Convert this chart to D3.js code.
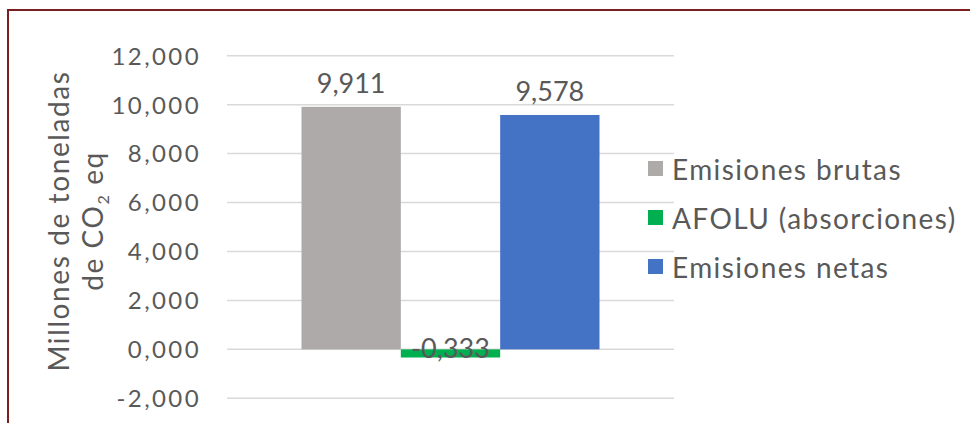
<!DOCTYPE html>
<html>
<head>
<meta charset="utf-8">
<script src="https://cdn.jsdelivr.net/npm/d3@7"></script>
<style>
  body { margin: 0; background: #fff; }
  svg { display: block; }
  text { font-family: Lato, "Open Sans", sans-serif; fill: #595959; }
</style>
</head>
<body>
<svg id="chart" width="970" height="423"></svg>
<script>
// data
const series = ["Emisiones brutas", "AFOLU (absorciones)", "Emisiones netas"];
const values = [9.911, -0.333, 9.578];
const colors = ["#aeaaaa", "#00b050", "#4472c4"];
const yTicks = [-2, 0, 2, 4, 6, 8, 10, 12];

const svg = d3.select("#chart");
const W = 970, H = 423;

const locale = d3.formatLocale({decimal: ",", thousands: ".", grouping: [3], currency: ["$", ""], minus: "-"});
const fmt = locale.format(".3f");

// outer frame
svg.append("rect")
  .attr("x", 8).attr("y", 10)
  .attr("width", W).attr("height", H)
  .attr("fill", "none")
  .attr("stroke", "#7b1e1e")
  .attr("stroke-width", 2);

const plot = {left: 227, right: 674, top: 55.7, bottom: 398.3};

const y = d3.scaleLinear()
  .domain([-2, 12])
  .range([plot.bottom, plot.top]);

const outer = (plot.right - plot.left - 298) / 2;
const x = d3.scaleBand()
  .domain(series)
  .range([plot.left + outer, plot.right - outer])
  .padding(0);

// gridlines + tick labels
const axis = svg.append("g")
  .call(d3.axisLeft(y).tickValues(yTicks).tickFormat(fmt).tickSize(0).tickPadding(0))
  .attr("transform", "translate(201,0)");
axis.select(".domain").remove();
axis.selectAll("text")
  .attr("font-size", 24)
  .attr("letter-spacing", 2.4)
  .style("font-family", "Lato, sans-serif")
  .attr("fill", "#595959")
  .attr("dy", "0.35em");

svg.append("g").selectAll("line")
  .data(yTicks)
  .enter().append("line")
  .attr("x1", plot.left).attr("x2", plot.right)
  .attr("y1", d => y(d)).attr("y2", d => y(d))
  .attr("stroke", "#d9d9d9")
  .attr("stroke-width", 1.5);

// bars
svg.append("g").selectAll("rect")
  .data(values)
  .enter().append("rect")
  .attr("x", (d, i) => x(series[i]))
  .attr("width", x.bandwidth())
  .attr("y", d => y(Math.max(0, d)))
  .attr("height", d => Math.abs(y(d) - y(0)))
  .attr("fill", (d, i) => colors[i]);

// data labels
svg.append("g").selectAll("text")
  .data(values)
  .enter().append("text")
  .attr("x", (d, i) => x(series[i]) + x.bandwidth() / 2)
  .attr("y", d => d >= 0 ? y(d) - 14 : y(0) + 9)
  .attr("text-anchor", "middle")
  .attr("font-size", 27)
  .attr("fill", "#404040")
  .text(d => fmt(d));

// y axis title
const title = svg.append("text")
  .attr("transform", "rotate(-90)")
  .attr("text-anchor", "middle")
  .attr("font-size", 28)
  .attr("letter-spacing", 1.6);
title.append("tspan")
  .attr("x", -221).attr("y", 69)
  .text("Millones de toneladas");
const t2 = title.append("tspan")
  .attr("x", -221).attr("y", 103)
  .text("de CO");
t2.append("tspan").attr("font-size", 16).attr("dy", 6).text("2");
t2.append("tspan").attr("dy", -6).text(" eq");

// legend
const legend = svg.append("g").selectAll("g")
  .data(series)
  .enter().append("g")
  .attr("transform", (d, i) => `translate(648,${169 + i * 49})`);
legend.append("rect")
  .attr("x", 0).attr("y", -8)
  .attr("width", 15).attr("height", 15)
  .attr("fill", (d, i) => colors[i]);
legend.append("text")
  .attr("x", 24).attr("y", 1)
  .attr("dy", "0.35em")
  .attr("font-size", 28)
  .attr("letter-spacing", 1.4)
  .text(d => d);
</script>
</body>
</html>
